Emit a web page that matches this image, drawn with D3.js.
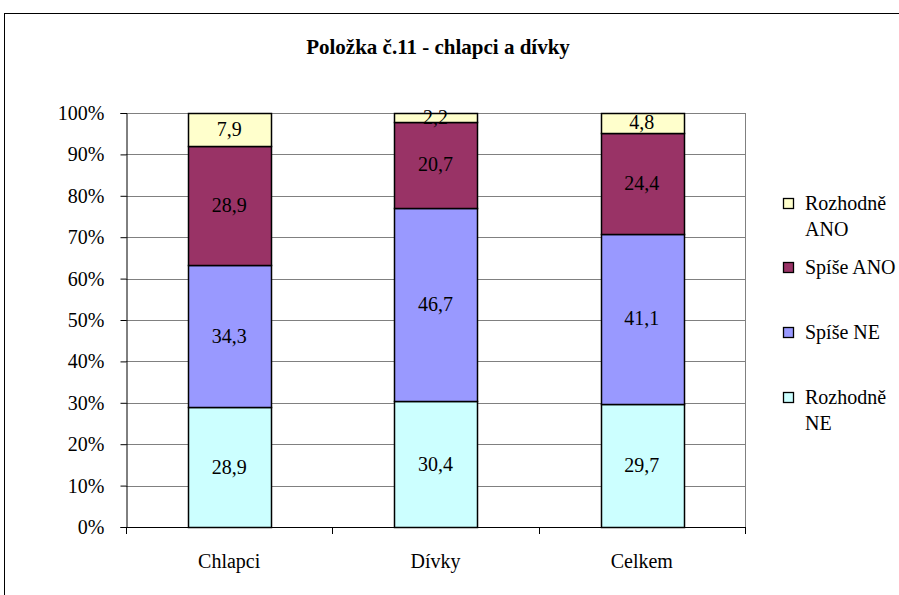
<!DOCTYPE html>
<html><head><meta charset="utf-8">
<script src="https://cdn.jsdelivr.net/npm/d3@7"></script>
</head><body style="margin:0"><svg id="c" width="899" height="595" style="display:block"></svg>
<script>
const categories = ["Chlapci", "Dívky", "Celkem"];
const seriesNames = ["Rozhodně NE", "Spíše NE", "Spíše ANO", "Rozhodně ANO"];
const rozhodneNE = [28.9, 30.4, 29.7];
const spiseNE = [34.3, 46.7, 41.1];
const spiseANO = [28.9, 20.7, 24.4];
const rozhodneANO = [7.9, 2.2, 4.8];
const yTicks = [0,10,20,30,40,50,60,70,80,90,100];
const colors = ["#CCFFFF", "#9999FF", "#993366", "#FFFFCC"];
const legendLines = [["Rozhodně","ANO"],["Spíše ANO"],["Spíše NE"],["Rozhodně","NE"]];
const FONT = "\"Liberation Serif\"";

const svg = d3.select("#c");
svg.append("rect").attr("x",4.5).attr("y",13.5).attr("width",900).attr("height",600)
  .attr("fill","#fff").attr("stroke","#000").attr("stroke-width",1);

svg.append("text").attr("x",438).attr("y",54).attr("text-anchor","middle").style("font-family",FONT)
  .attr("font-size",21).attr("font-weight","bold").text("Položka č.11 - chlapci a dívky");

const L=126, R=745, T=113, B=527;
const x = d3.scaleBand().domain(categories).range([L,R]).paddingInner(0.6).paddingOuter(0.3);
const y = d3.scaleLinear().domain([0,100]).range([B,T]);

// gridlines
svg.append("g").selectAll("line").data(yTicks.filter(d=>d>0)).join("line")
  .attr("x1",L).attr("x2",R).attr("y1",d=>Math.round(y(d))+0.5).attr("y2",d=>Math.round(y(d))+0.5)
  .attr("stroke","#808080").attr("stroke-width",1);
svg.append("line").attr("x1",R+0.5).attr("x2",R+0.5).attr("y1",T).attr("y2",B).attr("stroke","#808080");

const data = [rozhodneNE, spiseNE, spiseANO, rozhodneANO];
const stackData = categories.map((c,i)=>{const o={cat:c}; seriesNames.forEach((s,j)=>o[s]=data[j][i]); return o;});
const stacked = d3.stack().keys(seriesNames)(stackData);

const g = svg.append("g");
stacked.forEach((layer,j)=>{
  g.selectAll(null).data(layer).join("rect")
    .attr("x",d=>Math.round(x(d.data.cat))+0.5)
    .attr("width",Math.round(x.bandwidth()))
    .attr("y",d=>Math.round(y(d[1]))+0.5)
    .attr("height",d=>Math.round(y(d[0]))-Math.round(y(d[1])))
    .attr("fill",colors[j]).attr("stroke","#000").attr("stroke-width",1.5);
});
stacked.forEach((layer,j)=>{
  g.selectAll(null).data(layer).join("text")
    .attr("x",d=>x(d.data.cat)+x.bandwidth()/2)
    .attr("y",d=>y((d[0]+d[1])/2)+6.5)
    .attr("text-anchor","middle").attr("font-size",20).style("font-family",FONT)
    .text(d=>(d[1]-d[0]).toFixed(1).replace(".",","));
});

// y axis
const yAxis = d3.axisLeft(y).tickValues(yTicks).tickSize(6).tickFormat(d=>d+"%");
const ya = svg.append("g").attr("transform",`translate(${L+0.5},0)`).call(yAxis).attr("font-family",null);
ya.selectAll("text").attr("font-size",20).style("font-family",FONT).attr("x",-22).attr("fill","#000");
ya.selectAll("line").attr("stroke","#000");
ya.select(".domain").attr("stroke","#000");

// x axis
const xAxis = d3.axisBottom(x).tickSize(0).tickPadding(0);
const xa = svg.append("g").attr("transform",`translate(0,${B+0.5})`).call(xAxis).attr("font-family",null);
xa.select(".domain").attr("d",`M${L},0H${R}`).attr("stroke","#000");
xa.selectAll("text").attr("font-size",20).style("font-family",FONT).attr("y",40).attr("dy",0).attr("fill","#000");
const step = (R-L)/categories.length;
svg.append("g").selectAll("line").data(d3.range(categories.length+1)).join("line")
  .attr("x1",d=>Math.round(L+d*step)+0.5).attr("x2",d=>Math.round(L+d*step)+0.5)
  .attr("y1",B).attr("y2",B+7).attr("stroke","#000");

// legend
const lg = svg.append("g");
const legendBase = [210, 274, 339, 404];
const order = [3,2,1,0];
order.forEach((si,k)=>{
  const by = legendBase[k];
  lg.append("rect").attr("x",783.5).attr("y",by-11.5).attr("width",10).attr("height",10)
    .attr("fill",colors[si]).attr("stroke","#000").attr("stroke-width",1.3);
  legendLines[k].forEach((ln,li)=>{
    lg.append("text").attr("x",805).attr("y",by+li*26).attr("font-size",20).style("font-family",FONT).text(ln);
  });
});
</script></body></html>
